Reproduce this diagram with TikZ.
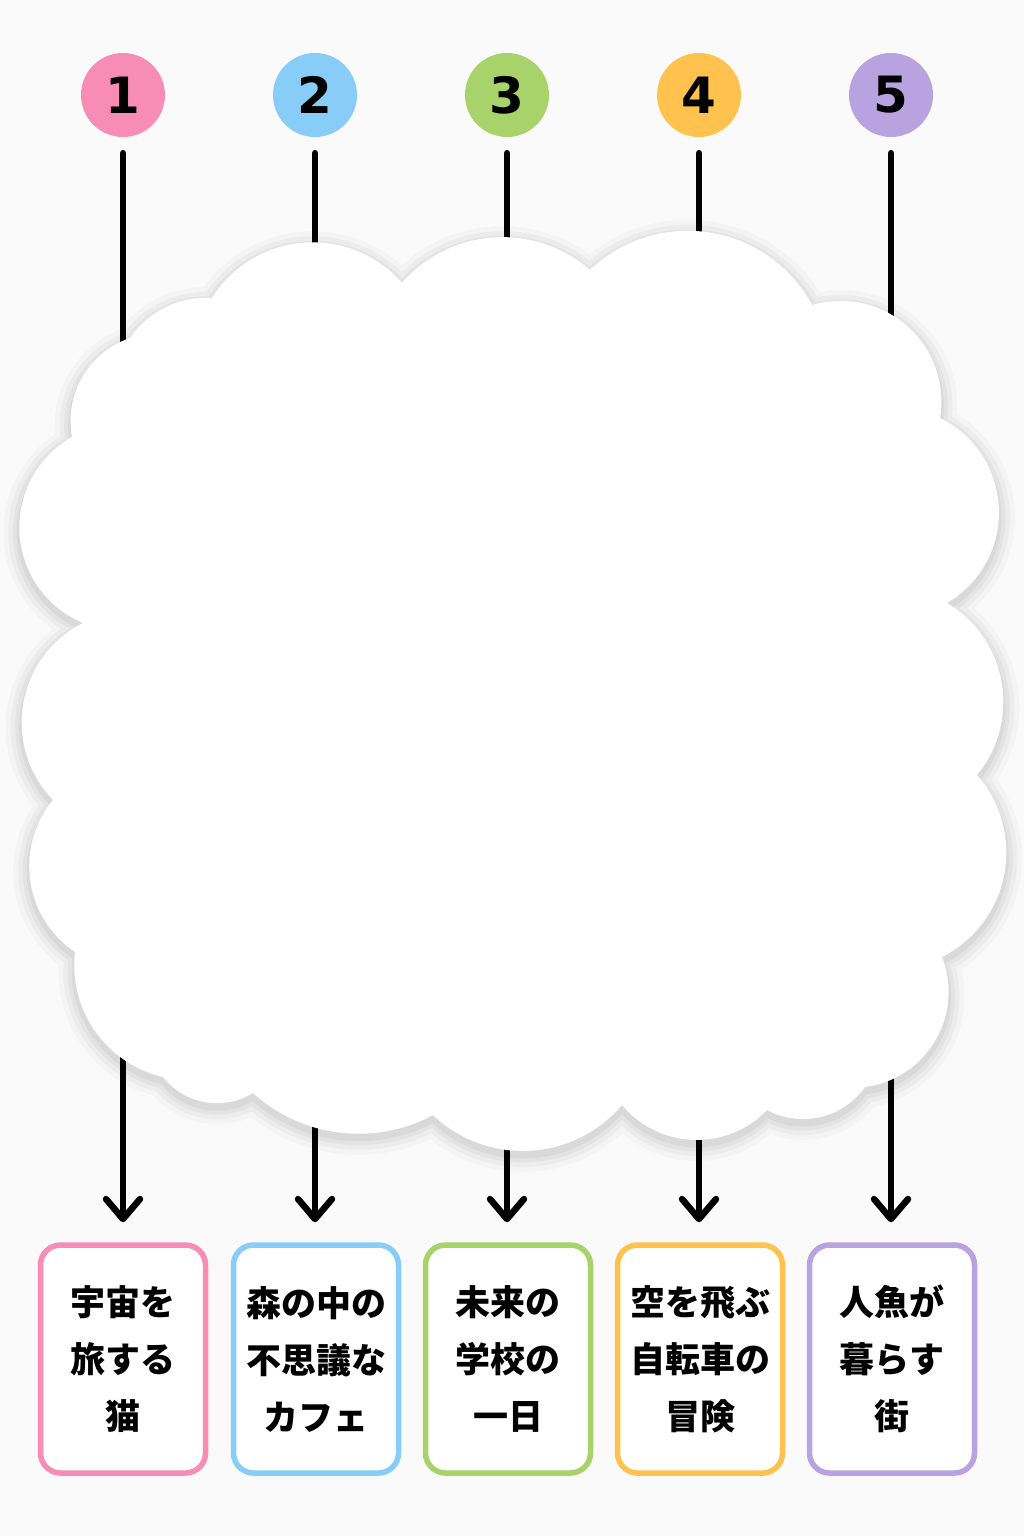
\documentclass[tikz,border=0pt]{standalone}
\usepackage{fontspec}
\newfontfamily\cjk{Noto Sans CJK JP}
\newfontfamily\numfont{DejaVu Sans}
\usetikzlibrary{calc,arrows.meta}
\definecolor{bg}{HTML}{FAFAFA}
\definecolor{cpink}{HTML}{F78DB5}
\definecolor{cblue}{HTML}{87CDF8}
\definecolor{cgreen}{HTML}{A8D26A}
\definecolor{corange}{HTML}{FFC24F}
\definecolor{cpurple}{HTML}{B9A2E0}
% each lobe: start cusp / apex / end cusp
\newcommand\lobelist{%
 130/338/166/307/212/298,
 212/298/312/242/402/283,
 402/283/500/237/590/270,
 590/270/700/231/812/305,
 812/305/906/325/940/418,
 940/418/999/512/947/603,
 947/603/1003/690/977/775,
 977/775/1007/860/942/957,
 942/957/935/1041/865/1087,
 865/1087/812/1119/767/1110,
 767/1110/697/1140/622/1105,
 622/1105/525/1151/433/1115,
 433/1115/343/1133/253/1093,
 253/1093/210/1103/163/1077,
 163/1077/95/1031/75/952,
 75/952/29/872/53/800,
 53/800/21/717/83/623,
 83/623/19/525/72/437,
 72/437/83/376/130/338}
\newcommand\cloudcore{(130,338) -- (212,298) -- (402,283) -- (590,270) -- (812,305) -- (940,418) -- (947,603) -- (977,775) -- (942,957) -- (865,1087) -- (767,1110) -- (622,1105) -- (433,1115) -- (253,1093) -- (163,1077) -- (75,952) -- (53,800) -- (83,623) -- (72,437) -- cycle}
\newcommand\cloudshapes[1]{%
  \foreach \px/\py/\ax/\ay/\qx/\qy in \lobelist {
    \pgfmathsetmacro\lmx{(\px+\qx)/2}
    \pgfmathsetmacro\lmy{(\py+\qy)/2}
    \pgfmathsetmacro\lL{10*veclen((\qx-\px)/10,(\qy-\py)/10)}
    \pgfmathsetmacro\lnx{(\py-\qy)/(\lL)}
    \pgfmathsetmacro\lny{(\qx-\px)/(\lL)}
    \pgfmathsetmacro\lh{(\ax-\lmx)*(\lnx)+(\ay-\lmy)*(\lny)}
    \pgfmathsetmacro\lc{(\lL)/2}
    \pgfmathsetmacro\lr{((\lc)/(\lh)*(\lc)+(\lh))/2}
    \pgfmathsetmacro\lcx{(\lmx)+((\lh)-(\lr))*(\lnx)}
    \pgfmathsetmacro\lcy{(\lmy)+((\lh)-(\lr))*(\lny)}
    \pgfmathsetmacro\lra{abs(\lr)}
    \path[#1] (\lcx,\lcy) circle[radius=\lra];
  }
  \path[#1] \cloudcore;
}
\begin{document}
\begin{tikzpicture}[x=1pt,y=-1pt,
  num/.style={circle, minimum size=84pt, inner sep=0pt, text=black,
    font=\numfont\bfseries\fontsize{50pt}{50pt}\selectfont},
  card/.style={draw, line width=5.5pt, rounded corners=20pt, fill=white,
    minimum width=165pt, minimum height=228pt, align=center, inner sep=0pt,
    font=\cjk\bfseries\fontsize{35pt}{57pt}\selectfont},
  link/.style={line width=6.5pt, line cap=round, shorten <=16pt, shorten >=20pt,
    -{Straight Barb[length=20pt,width=34pt,line cap=round,line join=round]}},
  shadowpart/.style={fill=black, draw=black, line width=#1, line join=round}]
\fill[bg] (0,0) rectangle (1024,1536);
\useasboundingbox (0,0) rectangle (1024,1536);
% number circles
\node[num, fill=cpink]   (c1) at (123,95) {1};
\node[num, fill=cblue]   (c2) at (315,95) {2};
\node[num, fill=cgreen]  (c3) at (507,95) {3};
\node[num, fill=corange] (c4) at (699,95) {4};
\node[num, fill=cpurple] (c5) at (891,95) {5};
% cards
\node[card, draw=cpink]   (b1) at (123,1359) {宇宙を\\旅する\\猫};
\node[card, draw=cblue]   (b2) at (316,1359) {森の中の\\不思議な\\カフェ};
\node[card, draw=cgreen]  (b3) at (508,1359) {未来の\\学校の\\一日};
\node[card, draw=corange] (b4) at (700,1359) {空を飛ぶ\\自転車の\\冒険};
\node[card, draw=cpurple] (b5) at (892,1359) {人魚が\\暮らす\\街};
% connectors
\foreach \i in {1,...,5}{
  \draw[link] (c\i) -- (c\i |- b\i.north);
}
% cloud shadow (soft, stacked layers)
\foreach \w/\o in {32pt/0.025, 22pt/0.03, 13pt/0.035, 5pt/0.045}{
  \begin{scope}[transparency group, opacity=\o, shift={(0,5)}]
    \cloudshapes{shadowpart=\w}
  \end{scope}
}
% cloud
\cloudshapes{fill=white}
\end{tikzpicture}
\end{document}
